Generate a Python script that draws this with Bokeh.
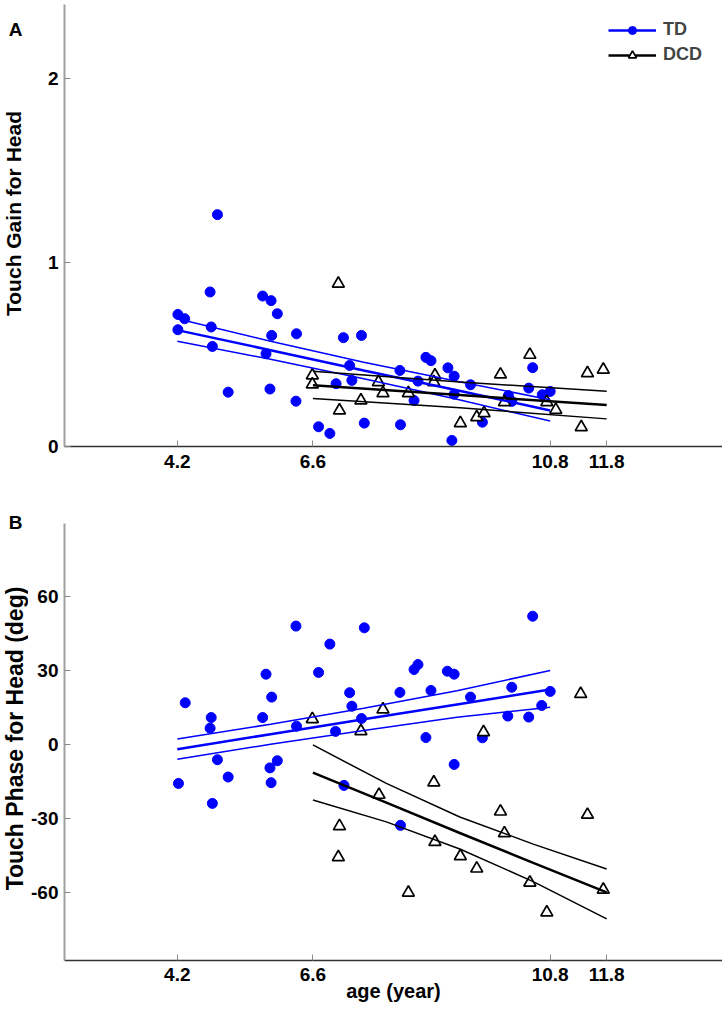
import numpy as np
from bokeh.plotting import figure
from bokeh.models import Range1d, FixedTicker, Legend, LegendItem
from bokeh.layouts import column, row
from bokeh.embed import file_html
from bokeh.resources import INLINE
from bokeh.core.properties import value

# ---------------- data ----------------
x_ticks = [4.2, 6.6, 10.8, 11.8]
gain_ticks = [0, 1, 2]
phase_ticks = [-60, -30, 0, 30, 60]

# Panel A: Touch gain
td_age_gain = [4.21, 4.33, 4.21, 4.78, 4.80, 4.82, 4.91, 5.10, 5.71, 5.86, 5.97, 5.87, 5.77, 5.84,
               6.31, 6.30, 6.70, 6.90, 7.01, 7.14, 7.25, 7.29, 7.46, 7.51, 8.14, 8.15, 8.39, 8.46,
               8.60, 8.69, 8.99, 9.10, 9.10, 9.06, 9.39, 9.60, 10.06, 10.12, 10.42, 10.49, 10.66, 10.80]
td_gain = [0.717, 0.694, 0.634, 0.839, 0.649, 0.543, 1.259, 0.295, 0.817, 0.792, 0.721, 0.603, 0.504, 0.312,
           0.612, 0.246, 0.107, 0.071, 0.341, 0.591, 0.440, 0.359, 0.603, 0.127, 0.413, 0.118, 0.250, 0.355,
           0.484, 0.466, 0.427, 0.382, 0.284, 0.033, 0.335, 0.132, 0.277, 0.245, 0.317, 0.428, 0.281, 0.299]

dcd_age_gain = [6.59, 6.59, 7.05, 7.07, 7.45, 7.76, 7.84, 8.29, 8.76, 8.74, 9.21, 9.50, 9.63, 9.92,
                9.99, 10.44, 10.74, 10.90, 11.35, 11.46, 11.74]
dcd_gain = [0.386, 0.337, 0.884, 0.196, 0.250, 0.349, 0.290, 0.290, 0.386, 0.349, 0.127, 0.159, 0.181, 0.391,
            0.241, 0.498, 0.241, 0.199, 0.105, 0.398, 0.417]

# regression lines (mean and confidence limits) read at a few ages
td_fit_age_gain = [4.2, 5.85, 7.5, 9.15, 10.8]
td_fit_gain = [0.632, 0.523, 0.413, 0.305, 0.196]
td_fit_gain_hi = [0.694, 0.572, 0.458, 0.354, 0.254]
td_fit_gain_lo = [0.572, 0.474, 0.368, 0.256, 0.138]

dcd_fit_age_gain = [6.6, 9.2, 11.8]
dcd_fit_gain = [0.332, 0.279, 0.225]
dcd_fit_gain_hi = [0.409, 0.350, 0.300]
dcd_fit_gain_lo = [0.261, 0.210, 0.150]

# Panel B: Touch phase
td_age_phase = [4.34, 4.80, 4.78, 4.22, 4.91, 5.10, 4.82, 5.77, 5.87, 5.71, 5.97, 5.84, 5.86, 6.30,
                6.31, 6.90, 6.70, 7.51, 7.25, 7.29, 7.46, 7.00, 7.15, 8.15, 8.14, 8.39, 8.46, 8.69,
                8.60, 8.98, 9.10, 9.10, 9.39, 9.60, 10.12, 10.05, 10.42, 10.49, 10.65, 10.80]
td_phase = [16.9, 10.9, 6.6, -15.8, -6.2, -13.2, -23.9, 28.5, 19.2, 10.9, -6.6, -9.5, -15.5, 48.0,
            7.4, 40.7, 29.2, 47.3, 21.0, 15.5, 10.5, 5.3, -16.6, -32.8, 21.1, 30.4, 32.4, 21.9,
            2.8, 29.7, 28.5, -8.1, 19.2, 2.7, 23.2, 11.5, 11.1, 52.0, 15.8, 21.5]

dcd_age_phase = [6.59, 7.84, 7.45, 8.74, 7.77, 7.07, 8.76, 7.05, 9.62, 11.34, 9.92, 11.46, 9.99,
                 9.21, 9.50, 10.44, 11.74, 8.29, 10.74]
dcd_phase = [10.3, 14.2, 5.4, -15.4, -20.4, -33.1, -39.5, -45.7, 5.0, 20.5, -27.2, -28.5, -36.0,
             -45.3, -50.3, -56.0, -58.9, -60.1, -68.1]

td_fit_age_phase = [4.2, 5.85, 7.5, 9.15, 10.8]
td_fit_phase = [-1.9, 4.15, 10.2, 16.25, 22.3]
td_fit_phase_hi = [2.2, 8.2, 14.7, 21.8, 30.0]
td_fit_phase_lo = [-6.0, 0.1, 5.7, 11.0, 15.1]

dcd_fit_age_phase = [6.6, 7.9, 9.2, 10.5, 11.8]
dcd_fit_phase = [-11.4, -23.6, -35.9, -48.0, -60.0]
dcd_fit_phase_hi = [-0.2, -15.8, -29.4, -40.4, -50.5]
dcd_fit_phase_lo = [-22.5, -31.4, -42.4, -55.6, -70.7]

# ---------------- styling ----------------
FONT = "Liberation Sans"
BLUE = "#0000ff"
BLACK = "#000000"
X0, X1 = 2.203, 13.85
STRIP_W = 28
BORDER_L = 35
TOTAL_W = 722
TOTAL_H = 1010
H_A = 486


def make_fig(height, yr, top, bottom, yticks):
    p = figure(width=TOTAL_W - STRIP_W, height=height, x_range=Range1d(X0, X1), y_range=Range1d(*yr),
               output_backend="svg", toolbar_location=None,
               min_border_left=BORDER_L, min_border_right=0, min_border_top=top, min_border_bottom=bottom)
    p.outline_line_color = None
    p.grid.visible = False
    p.background_fill_color = "white"
    p.border_fill_color = "white"

    p.xaxis.ticker = FixedTicker(ticks=x_ticks)
    p.xaxis.major_label_overrides = {t: str(t) for t in x_ticks}
    p.xaxis.axis_line_color = "#333333"
    p.xaxis.axis_line_width = 1.5
    p.xaxis.major_tick_in = 6
    p.xaxis.major_tick_out = 0
    p.xaxis.major_tick_line_color = "#888888"
    p.xaxis.minor_tick_line_color = None
    p.xaxis.major_label_standoff = 8

    p.yaxis.ticker = FixedTicker(ticks=yticks)
    p.yaxis.major_label_overrides = {t: str(t) for t in yticks}
    p.yaxis.axis_line_color = "#a0a0a0"
    p.yaxis.axis_line_width = 2
    p.yaxis.major_tick_in = 6
    p.yaxis.major_tick_out = 0
    p.yaxis.major_tick_line_color = "#888888"
    p.yaxis.minor_tick_line_color = None
    p.yaxis.major_label_standoff = 6

    for ax in (p.xaxis, p.yaxis):
        ax.major_label_text_font = FONT
        ax.major_label_text_font_style = "bold"
        ax.major_label_text_font_size = "19px"
        ax.major_label_text_color = "black"
        ax.axis_label_text_font = FONT
        ax.axis_label_text_font_style = "bold"
        ax.axis_label_text_color = "black"
    return p


# ---------------- panel A ----------------
pA = make_fig(H_A, (0, 2.40), 4, 40, gain_ticks)
td_pts_a = pA.scatter(td_age_gain, td_gain, marker="circle", size=10, fill_color=BLUE, line_color=BLUE)
dcd_pts_a = pA.scatter(dcd_age_gain, dcd_gain, marker="triangle", size=12, fill_color="white",
                       line_color=BLACK, line_width=1.7)
pA.line(td_fit_age_gain, td_fit_gain_hi, line_color=BLUE, line_width=1.5)
pA.line(td_fit_age_gain, td_fit_gain_lo, line_color=BLUE, line_width=1.5)
td_mean_a = pA.line(td_fit_age_gain, td_fit_gain, line_color=BLUE, line_width=2.5)
pA.line(dcd_fit_age_gain, dcd_fit_gain_hi, line_color=BLACK, line_width=1.5)
pA.line(dcd_fit_age_gain, dcd_fit_gain_lo, line_color=BLACK, line_width=1.5)
dcd_mean_a = pA.line(dcd_fit_age_gain, dcd_fit_gain, line_color=BLACK, line_width=2.5)

legend = Legend(items=[LegendItem(label="TD", renderers=[td_mean_a, td_pts_a]),
                       LegendItem(label="DCD", renderers=[dcd_mean_a, dcd_pts_a])],
                location=(544, 381), padding=0, margin=0, spacing=4,
                glyph_width=48, glyph_height=20, label_height=20, label_standoff=7,
                border_line_color=None, background_fill_alpha=0,
                label_text_font=FONT, label_text_font_style="bold", label_text_font_size="18px")
pA.add_layout(legend)

# ---------------- panel B ----------------
pB = make_fig(TOTAL_H - H_A, (-87.6, 89.6), 37, 50, phase_ticks)
pB.scatter(td_age_phase, td_phase, marker="circle", size=10, fill_color=BLUE, line_color=BLUE)
pB.scatter(dcd_age_phase, dcd_phase, marker="triangle", size=12, fill_color="white",
           line_color=BLACK, line_width=1.7)
pB.line(td_fit_age_phase, td_fit_phase_hi, line_color=BLUE, line_width=1.5)
pB.line(td_fit_age_phase, td_fit_phase_lo, line_color=BLUE, line_width=1.5)
pB.line(td_fit_age_phase, td_fit_phase, line_color=BLUE, line_width=2.5)
pB.line(dcd_fit_age_phase, dcd_fit_phase_hi, line_color=BLACK, line_width=1.5)
pB.line(dcd_fit_age_phase, dcd_fit_phase_lo, line_color=BLACK, line_width=1.5)
pB.line(dcd_fit_age_phase, dcd_fit_phase, line_color=BLACK, line_width=2.5)

pB.xaxis.axis_label = "age (year)"
pB.xaxis.axis_label_text_font_size = "20px"
pB.xaxis.major_label_standoff = 7
pB.xaxis.axis_label_standoff = -4

# ---------------- left strip with panel letters and y-axis titles ----------------
strip = figure(width=STRIP_W, height=TOTAL_H, x_range=Range1d(0, STRIP_W), y_range=Range1d(0, TOTAL_H),
               output_backend="svg", toolbar_location=None,
               min_border_left=0, min_border_right=0, min_border_top=0, min_border_bottom=0)
strip.axis.visible = False
strip.grid.visible = False
strip.outline_line_color = None
strip.background_fill_color = "white"
strip.border_fill_color = "white"

def strip_text(x, y, txt, size, angle=0.0):
    strip.text(x=[x], y=[y], text=[txt], angle=angle, text_align="center", text_baseline="middle",
               text_font=value(FONT), text_font_style="bold", text_font_size=size, text_color="black")

strip_text(15, TOTAL_H - 29, "A", "19px")
strip_text(13, TOTAL_H - 213, "Touch Gain for Head", "21px", np.pi / 2)
strip_text(15, TOTAL_H - 522, "B", "19px")
strip_text(14, TOTAL_H - 738, "Touch Phase for Head (deg)", "23px", np.pi / 2)

layout = row(strip, column(pA, pB, spacing=0), spacing=0)
open("out.html", "w").write(file_html(layout, INLINE))
